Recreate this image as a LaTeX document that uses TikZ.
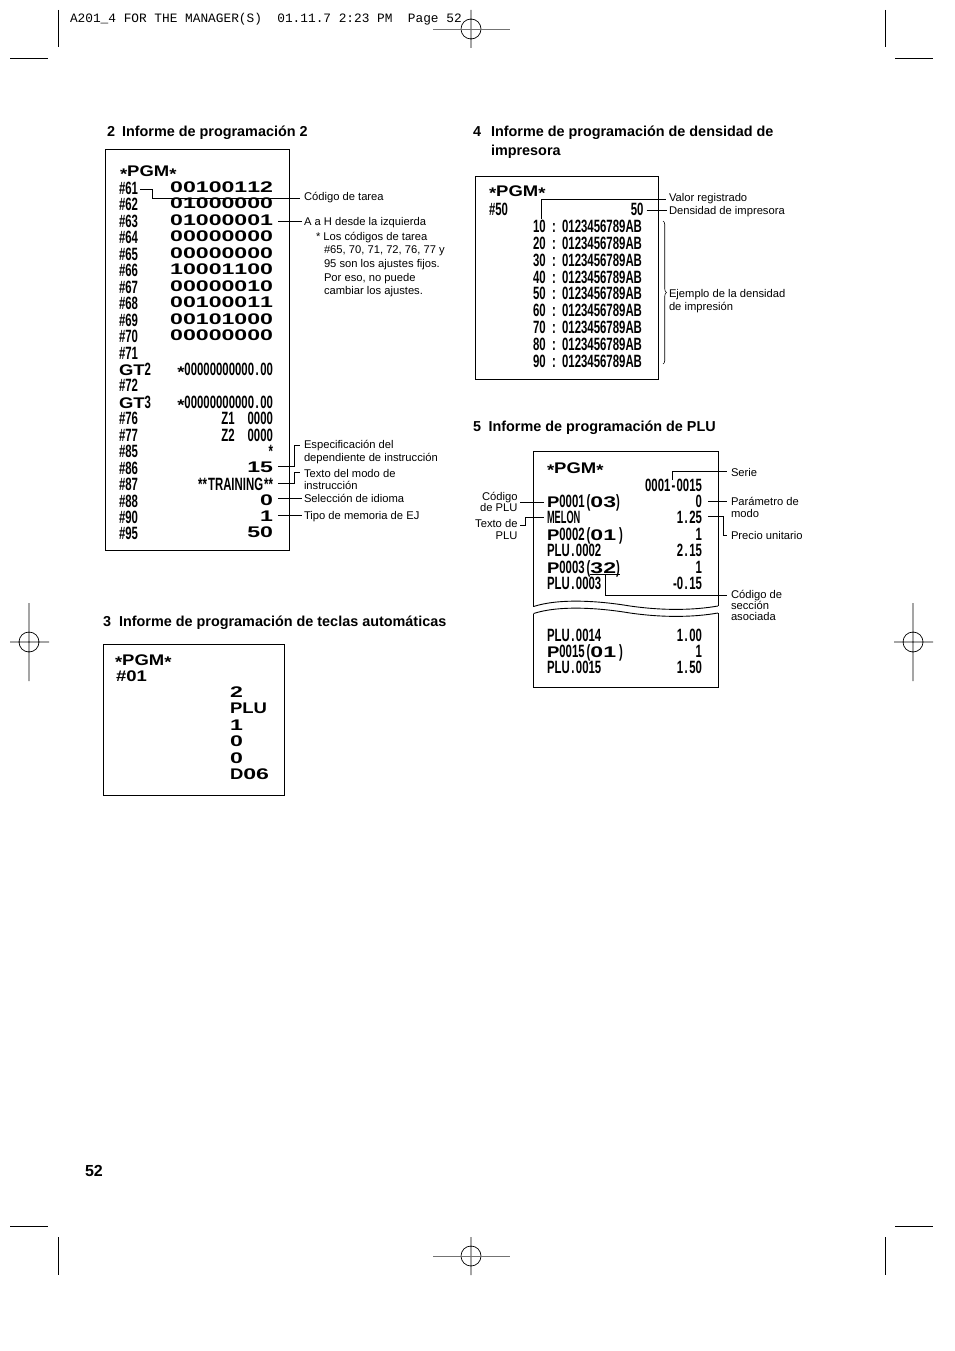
\documentclass[tikz,border=0pt]{standalone}
\usepackage{fontspec}
\setmainfont{Liberation Sans}
\newfontfamily\nfam[FakeStretch=.64,Kerning=Off]{Liberation Sans}
\newfontfamily\tfam[FakeStretch=.52,Kerning=Off]{Liberation Sans}
\newfontfamily\wfam[FakeStretch=1.5,Kerning=Off]{Liberation Sans}
\newfontfamily\lfam[FakeStretch=1.2,Kerning=Off]{Liberation Sans}
\newfontfamily\hdrfam{Liberation Mono}
\newcommand\recn{\nfam\bfseries\fontsize{17.8}{17.8}\selectfont}
\newcommand\rect{\tfam\bfseries\fontsize{17.8}{17.8}\selectfont}
\newcommand\recw{\wfam\bfseries\fontsize{15.4}{15.4}\selectfont}
\newcommand\recl{\lfam\bfseries\fontsize{15.4}{15.4}\selectfont}
\newcommand\pgmstar{\raisebox{-2pt}{\recl *}}
\newcommand\pgmdot{\kern1.5pt.\kern1.5pt}
\usetikzlibrary{calc, positioning, decorations.pathreplacing}

\begin{document}
\begin{tikzpicture}[x=1pt,y=-1pt]

\tikzstyle{every node}=[inner sep=0pt,outer sep=0pt]
\tikzstyle{lab}=[font=\fontsize{11.2}{12}\selectfont,anchor=west,align=left,yshift=-1pt]
\tikzstyle{labr}=[font=\fontsize{11.2}{11.5}\selectfont,anchor=east,align=right]
\tikzstyle{head}=[font=\bfseries\fontsize{14.4}{14.4}\selectfont,anchor=west,text height=10pt,text depth=3pt]
\tikzstyle{row}=[font=\recn,text height=14pt,text depth=0pt,anchor=west]
\tikzstyle{rowv}=[row,anchor=east]
\tikzstyle{rowb}=[rowv,font=\recw,yshift=2pt]
\tikzstyle{wrow}=[font=\recw,text height=11pt,text depth=0pt,anchor=west]
\tikzstyle{lead}=[line width=.8pt]
\tikzstyle{slip}=[line width=.9pt]
\tikzstyle{regline}=[line width=.7pt]

\useasboundingbox (0,0) rectangle (954,1351);

\draw[regline] (58.5,10) -- (58.5,47) (10,58) -- (48,58);
\draw[regline] (885,10) -- (885,47) (895,58) -- (933,58);
\draw[regline] (58.5,1237) -- (58.5,1275) (10,1226) -- (48,1226);
\draw[regline] (885,1237) -- (885,1275) (895,1226) -- (933,1226);
\foreach \x/\y in {471/29,471/1256}
  {\draw[regline] (\x,\y) circle (10) (\x,\y-19) -- (\x,\y+19);
   \draw[regline,black!55] (\x-38,\y) -- (\x+39,\y);}
\foreach \x/\y in {29/642,913/642}
  \draw[regline] (\x,\y) circle (10) (\x,\y-39) -- (\x,\y+39) (\x-19,\y) -- (\x+20,\y);

\node[anchor=west,font=\hdrfam\fontsize{12.8}{12.8}\selectfont] (hdr) at (70,19.5)
  {A201\_4 FOR THE MANAGER(S)~~01.11.7 2:23 PM~~Page 52};
\node[head,font=\bfseries\fontsize{16}{16}\selectfont] (pageno) at (85,1172.5) {52};

\node[head] (n2) at (107,133.5) {2};
\node[head,right=7pt of n2] (h2) {Informe de programación 2};
\node[head] (n3) at (103,622.5) {3};
\node[head,right=8pt of n3] (h3) {Informe de programación de teclas automáticas};
\node[head] (n4) at (473,133.5) {4};
\node[head,right=10pt of n4] (h4) {Informe de programación de densidad de};
\node[head,below=6pt of h4.south west,anchor=north west] (h4b) {impresora};
\node[head] (n5) at (473,427.5) {5};
\node[head,right=7.5pt of n5] (h5) {Informe de programación de PLU};

\draw[slip] (105.5,149.5) rectangle (289.5,550);
\node[row] (pgm2) at (120,170) {\pgmstar\recl PGM\pgmstar};
\node[row] (c61) at (119,187.5) {\#61};
\foreach \id/\c [remember=\id as \prev (initially 61)] in {62/\#62,63/\#63,64/\#64,65/\#65,66/\#66,67/\#67,68/\#68,69/\#69,70/\#70,71/\#71,g2/{\recl GT\recn 2},72/\#72,g3/{\recl GT\recn 3},76/\#76,77/\#77,85/\#85,86/\#86,87/\#87,88/\#88,90/\#90,95/\#95}
  \node[row,below=2.45pt of c\prev.south west,anchor=north west] (c\id) {\c};
\foreach \id/\v in {61/00100112,62/01000000,63/01000001,64/00000000,65/00000000,66/10001100,67/00000010,68/00100011,69/00101000,70/00000000,86/15,88/0,90/1,95/50}
  \node[rowb] (v\id) at (273,0 |- c\id) {\v};
\foreach \id/\v in {g2/\pgmstar 00000000000\pgmdot 00,g3/\pgmstar 00000000000\pgmdot 00,76/Z1\kern13pt 0000,77/Z2\kern13pt 0000,85/*,87/**\kern1pt TRAINING\kern1pt **}
  \node[rowv] (v\id) at (273,0 |- c\id) {\v};

\node[lab] (ltarea) at (304,197) {Código de tarea};
\node[lab] (lhasta) at (304,222) {A a H desde la izquierda};
\node[lab] (lnota) at (316,237) {* Los códigos de tarea};
\node[lab,anchor=north west] (lnotab) at (324,245) {\#65, 70, 71, 72, 76, 77 y\\[1.6pt]95 son los ajustes fijos.\\[1.6pt]Por eso, no puede\\[1.6pt]cambiar los ajustes.};
\node[lab] (lespec) at (304,451.5) {Especificación del\\[1pt]dependiente de instrucción};
\node[lab] (ltexto) at (304,478) {Texto del modo de\\instrucción};
\node[lab] (lidioma) at (304,497.5) {Selección de idioma};
\node[lab] (lej) at (304,515.5) {Tipo de memoria de EJ};

\draw[lead] ([xshift=2pt,yshift=-1.5pt]c61.east) -| (152,0 |- ltarea.west) -- ([xshift=-4pt]ltarea.west);
\draw[lead] ([xshift=5pt,yshift=-2.5pt]v63.east) -- ([xshift=-2pt,yshift=-2.5pt]v63.east -| lhasta.west);
\draw[lead] ([xshift=5pt,yshift=-1.5pt]v86.east) -| (294,445) -- ([xshift=-4pt]304,445);
\draw[lead] ([xshift=5pt,yshift=.5pt]v87.east) -| (294,472.5) -- ([xshift=-4pt]304,472.5);
\draw[lead] ([xshift=5pt]v88.east) -- ([xshift=-2pt]v88.east -| lidioma.west);
\draw[lead] ([xshift=5pt,yshift=-.5pt]v90.east) -- ([xshift=-2pt,yshift=-.5pt]v90.east -| lej.west);

\draw[slip] (103.5,644.5) rectangle (284.5,795.5);
\node[row] (pgm3) at (115,658) {\pgmstar\recl PGM\pgmstar};
\node[wrow] (c01) at (116,675.5) {\recl\#01};
\node[wrow] (a1) at (230,692) {2};
\foreach \id/\v [remember=\id as \prev (initially 1)] in {2/{\recl PLU},3/1,4/0,5/0,6/{\recl D\recw 06}}
  \node[wrow,below=5.4pt of a\prev.south west,anchor=north west] (a\id) {\v};

\draw[slip] (475.7,176.7) rectangle (658.7,379.5);
\node[row] (pgm4) at (489,189.5) {\pgmstar\recl PGM\pgmstar};
\node[row] (c50) at (489,208) {\#50};
\node[rowv] (v50) at (643.5,208) {50};
\node[row] (d10) at (533,225.5) {10\kern6.35pt:\kern6.35pt 0123456789AB};
\foreach \d [remember=\d as \prev (initially 10)] in {20,30,40,50,60,70,80,90}
  \node[row,below=2.85pt of d\prev.south west,anchor=north west] (d\d) {\d\kern6.35pt:\kern6.35pt 0123456789AB};

\node[lab] (lvalor) at (669,198) {Valor registrado};
\node[lab] (ldens) at (669,211) {Densidad de impresora};
\node[lab] (lejem) at (669,300) {Ejemplo de la densidad\\[1.4pt]de impresión};
\draw[lead] ([xshift=8.5pt]d10.north west) |- ([xshift=-3pt]lvalor.west);
\draw[lead] ([xshift=3pt,yshift=-2.5pt]v50.east) -- ([xshift=-2pt,yshift=-2.5pt]v50.east -| ldens.west);
\coordinate (bt) at (663,221);
\coordinate (bb) at (663,364);
\draw[lead,line width=.6pt,decorate,decoration={brace,amplitude=3.5pt}] (bt) -- (bb);

\draw[slip] (533.5,606.5) -- (533.5,451) -- (718,451) -- (718,606);
\draw[slip] (533.5,606.5) .. controls (560,598) and (600,601) .. (630,606) .. controls (665,611) and (695,610) .. (718,606);
\draw[slip] (533.5,613.5) .. controls (560,605) and (600,608) .. (630,613) .. controls (665,618) and (695,617) .. (718,613);
\draw[slip] (533.5,613.5) -- (533.5,687.5) -- (718,687.5) -- (718,613);
\node[row] (pgm5) at (547,466) {\pgmstar\recl PGM\pgmstar};
\node[rowv] (vserie) at (702,484) {0001\kern1.2pt-\kern1.2pt 0015};
\node[row] (p1) at (547,500.5) {\recl P\recn 0001\kern2pt(\recw 03\recn )};
\foreach \id/\c [remember=\id as \prev (initially 1)] in {2/{\rect MELON},3/{\recl P\recn 0002\kern2pt(\recw 01\recn\,)},4/PLU\pgmdot 0002,5/{\recl P\recn 0003\kern2pt(\recw 32\recn )},6/PLU\pgmdot 0003}
  \node[row,below=2.45pt of p\prev.south west,anchor=north west] (p\id) {\c};
\foreach \id/\v in {1/0,2/1\pgmdot 25,3/1,4/2\pgmdot 15,5/1,6/-0\pgmdot 15}
  \node[rowv] (q\id) at (702,0 |- p\id) {\v};
\node[row] (p7) at (547,634) {PLU\pgmdot 0014};
\foreach \id/\c [remember=\id as \prev (initially 7)] in {8/{\recl P\recn 0015\kern2pt(\recw 01\recn\,)},9/PLU\pgmdot 0015}
  \node[row,below=2.45pt of p\prev.south west,anchor=north west] (p\id) {\c};
\foreach \id/\v in {7/1\pgmdot 00,8/1,9/1\pgmdot 50}
  \node[rowv] (q\id) at (702,0 |- p\id) {\v};

\node[lab] (lserie) at (731,471) {Serie};
\node[lab] (lparam) at (731,506) {Parámetro de\\modo};
\node[lab] (lprecio) at (731,534.5) {Precio unitario};
\node[lab] (lseccion) at (731,604) {Código de\\[-1pt]sección\\[-1pt]asociada};
\node[labr] (lcodigo) at (517.5,502) {Código\\de PLU};
\node[labr] (ltxplu) at (517.5,529.5) {Texto de\\PLU};

\coordinate (ua) at (590,574.5);
\coordinate (ub) at (620,574.5);
\draw[lead] (ua) -- (ub);
\draw[lead] ($(ua)!.5!(ub)$) |- ([xshift=-4pt]731,595);
\draw[lead] ([xshift=-1.3pt,yshift=-3pt]vserie.north) |- ([xshift=-4pt]731,471);
\draw[lead] ([xshift=6pt,yshift=-1pt]q1.east) -- ([xshift=-4pt,yshift=-1pt]731,0 |- q1.east);
\draw[lead] ([xshift=6pt,yshift=1pt]q2.east) -| (723,535.5) -- ([xshift=-4pt]731,535.5);
\draw[lead] ([xshift=2.5pt]lcodigo.east) -- ([xshift=-3pt]lcodigo.east -| p1.west);
\draw[lead] ([xshift=2.5pt,yshift=4.5pt]ltxplu.east) -| (525,0 |- p2.west) -- ([xshift=-3pt]p2.west);

\end{tikzpicture}
\end{document}
